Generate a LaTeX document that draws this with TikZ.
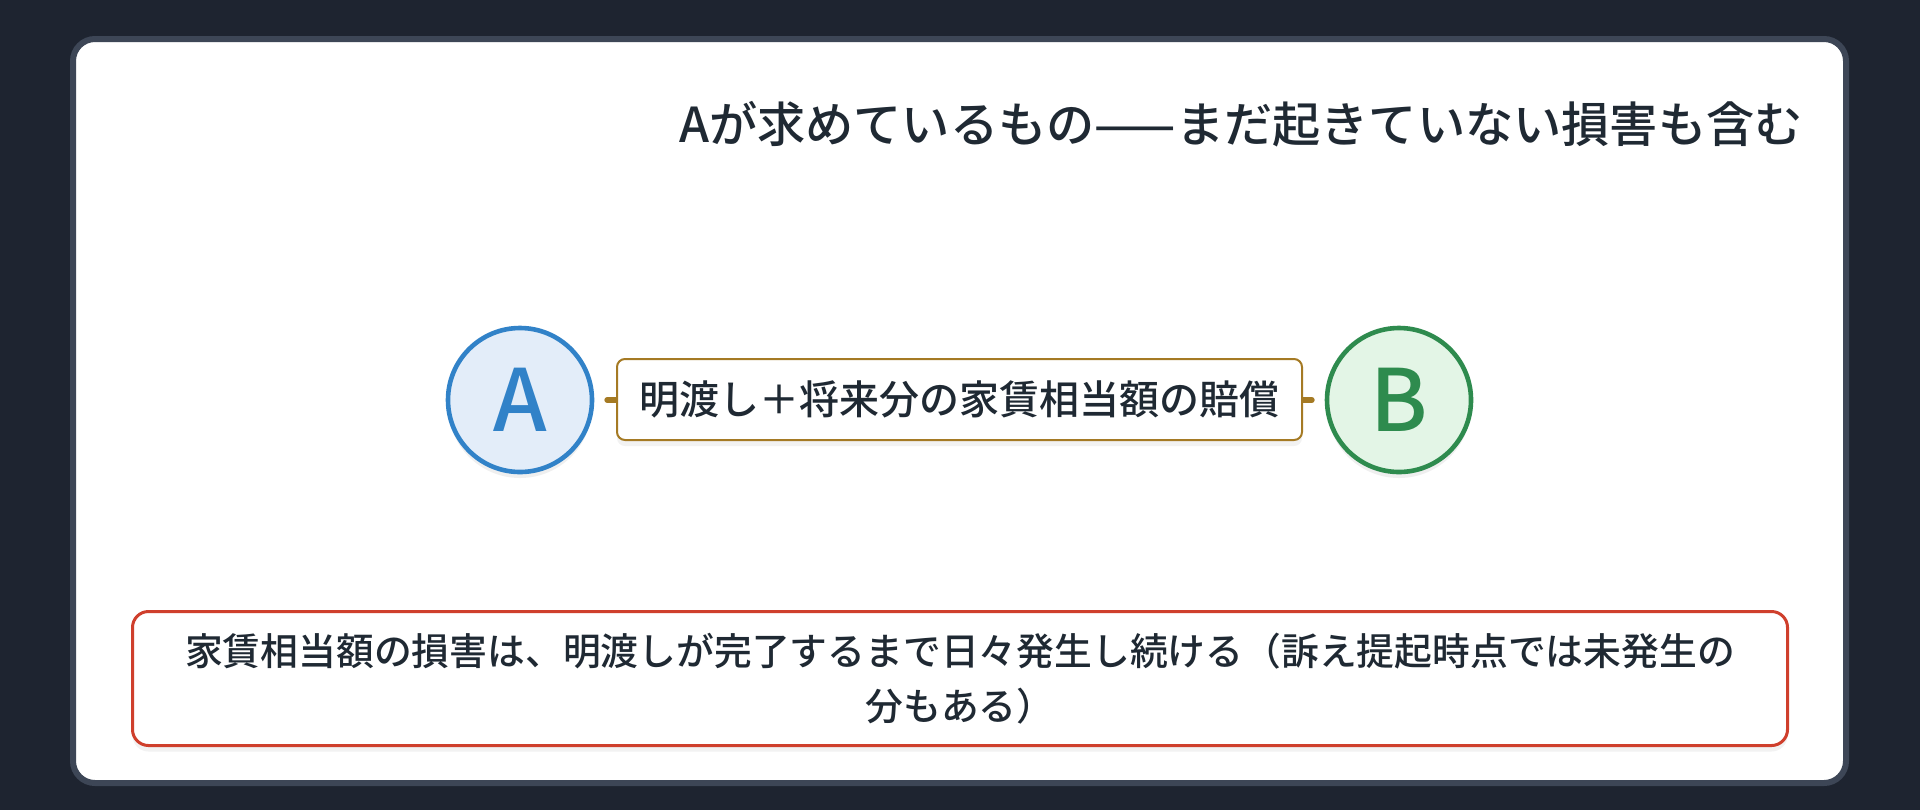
\documentclass[tikz,border=0pt]{standalone}
\usepackage{fontspec}
\setmainfont{Noto Sans CJK JP}[UprightFont={* Medium}, BoldFont={* Bold}]
\usetikzlibrary{shadows}
\definecolor{bgdark}{HTML}{1E2430}
\definecolor{panelborder}{HTML}{3D4656}
\definecolor{inkdark}{HTML}{1F2933}
\definecolor{ablue}{HTML}{3182C8}
\definecolor{ablfill}{HTML}{E3EDF9}
\definecolor{bgreen}{HTML}{2E8B4E}
\definecolor{bgrfill}{HTML}{E3F5E6}
\definecolor{brownline}{HTML}{A57A24}
\definecolor{redline}{HTML}{CF3F2C}
\tikzset{
  party/.style={circle, inner sep=0pt, minimum size=72pt, line width=2.3pt,
    font=\fontsize{43}{48}\selectfont,
    drop shadow={opacity=0.12, shadow xshift=0pt, shadow yshift=-3pt}},
  claimbox/.style={draw=brownline, fill=white, line width=1pt, rounded corners=4pt,
    minimum width=342.5pt, minimum height=40.5pt, inner sep=0pt, text=inkdark,
    font=\fontsize{20}{24}\selectfont,
    drop shadow={opacity=0.10, shadow xshift=0pt, shadow yshift=-3pt}},
  notebox/.style={draw=redline, fill=white, line width=1.5pt, rounded corners=8pt,
    minimum width=827.5pt, minimum height=67pt, inner sep=0pt, text=inkdark, align=center,
    font=\fontsize{18.9}{27.5}\selectfont,
    drop shadow={opacity=0.10, shadow xshift=0pt, shadow yshift=-3pt}},
  connector/.style={draw=brownline, line width=3pt, line cap=round},
  titletext/.style={text=inkdark, inner sep=0pt, font=\fontsize{24.1}{28}\selectfont}
}
\begin{document}
\begin{tikzpicture}[x=0.5pt,y=-0.5pt]
\useasboundingbox (0,0) rectangle (1920,810);
\fill[bgdark] (0,0) rectangle (1920,810);
\draw[panelborder, fill=white, line width=3pt, rounded corners=11pt] (73,39) rectangle (1846,783);

\node[titletext, anchor=east] (title) at (1803,124) {Aが求めているもの——まだ起きていない損害も含む};

\node[party, draw=ablue, fill=ablfill, text=ablue] (A) at (520,400) {A};
\node[party, draw=bgreen, fill=bgrfill, text=bgreen] (B) at (1399,400) {B};
\draw[connector, shorten <=6.5pt, shorten >=6.5pt] (A) -- (B);
\node[claimbox] (claim) at (959.5,399.5) {明渡し＋将来分の家賃相当額の賠償};

\node[notebox] (note) at (960,678.5) {家賃相当額の損害は、明渡しが完了するまで日々発生し続ける（訴え提起時点では未発生の\\分もある）};
\end{tikzpicture}
\end{document}
